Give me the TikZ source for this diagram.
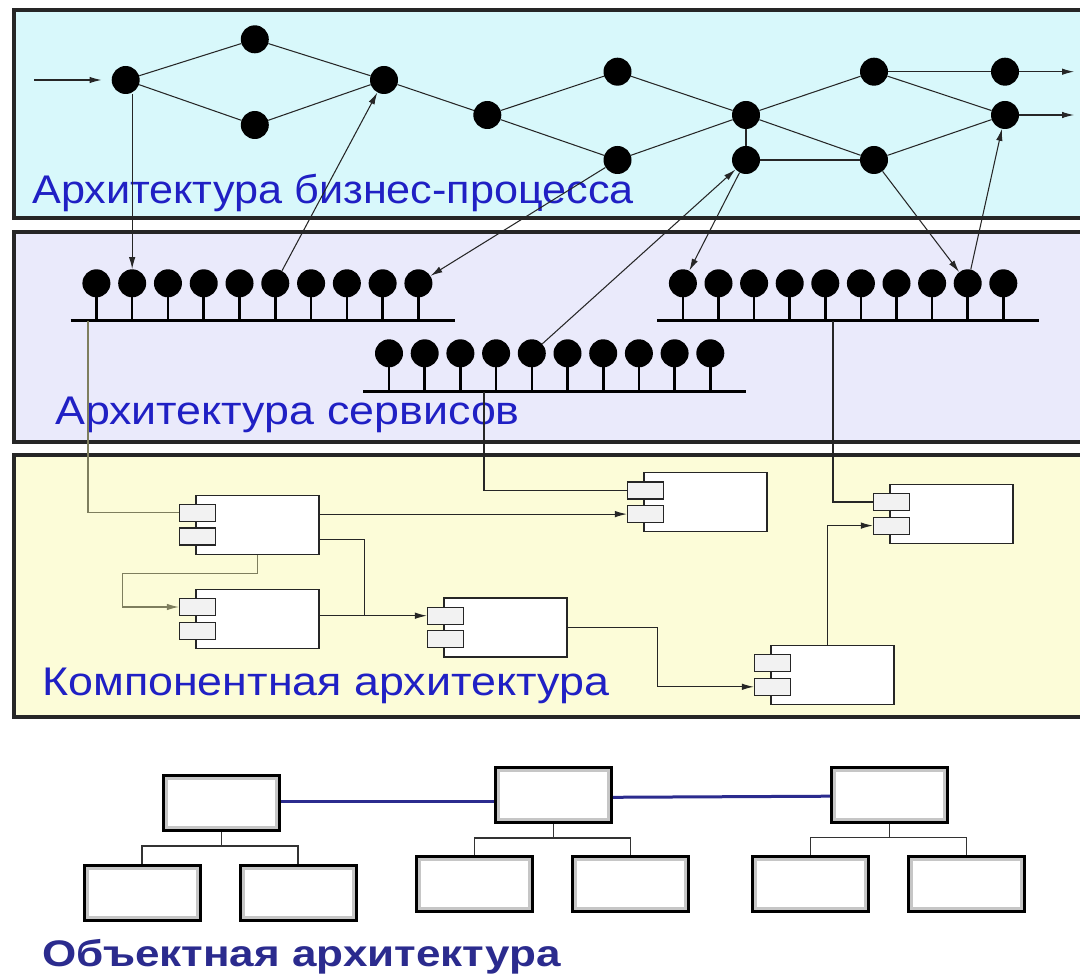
\documentclass[tikz,border=0pt]{standalone}
\usepackage{fontspec}
\setmainfont{Liberation Sans}
\usetikzlibrary{arrows.meta,calc}
\definecolor{bandA}{HTML}{D8F8FB}
\definecolor{bandB}{HTML}{EAEAFB}
\definecolor{bandC}{HTML}{FCFCD8}
\definecolor{labblue}{HTML}{2020C4}
\definecolor{navyline}{HTML}{2B2B8E}
\definecolor{olivegray}{HTML}{7E7E5E}
\definecolor{portfill}{HTML}{F2F2F2}
\tikzset{
  band/.style={draw=black!85, line width=3.8pt},
  dot/.style={circle, fill=black, minimum size=28pt, inner sep=0pt},
  flow/.style={draw=black!85, line width=1.05pt},
  arr/.style={flow, -{Latex[length=12pt,width=6.5pt]}},
  stem/.style={draw=black, line width=2.6pt},
  bus/.style={draw=black, line width=3pt},
  compbox/.style={draw=black!85, fill=white, line width=1.2pt, minimum width=123pt, minimum height=59pt, inner sep=0pt},
  port/.style={draw=black!85, fill=portfill, line width=1.2pt, minimum width=36pt, minimum height=17pt, inner sep=0pt},
  objbox/.style={draw=black, line width=3pt, fill=white, minimum width=116pt, minimum height=55pt, inner sep=0pt,
    path picture={\draw[gray!45, line width=9pt] (path picture bounding box.south west) rectangle (path picture bounding box.north east);}},
  tree/.style={draw=black!80, line width=1.1pt},
  link/.style={draw=navyline, line width=3pt},
  lab/.style={text=labblue, font=\fontsize{40}{40}\selectfont, inner sep=0pt, anchor=base west},
}
\newcommand{\umlcomp}[3]{%
  \node[compbox] (#1) at ({#2+61.5},#3) {};
  \node[port] (#1p1) at ({#2+1.5},{#3-11.8}) {};
  \node[port] (#1p2) at ({#2+1.5},{#3+11.8}) {};
}
\begin{document}
\begin{tikzpicture}[x=1pt,y=-1pt]
\clip (0,0) rectangle (1080,976);
\fill[white] (0,0) rectangle (1080,976);

% bands
\draw[band, fill=bandA] (14,10) rectangle (1100,218);
\draw[band, fill=bandB] (14,232) rectangle (1100,442);
\draw[band, fill=bandC] (14,455) rectangle (1100,717);

% labels
\node[lab] (t1) at (32,203.3) {\scalebox{1.08}[1]{Архитектура бизнес-процесса}};
\node[lab] (t2) at (55,425) {\scalebox{1.12}[1]{Архитектура сервисов}};
\node[lab] (t3) at (42,695) {\scalebox{1.12}[1]{Компонентная архитектура}};
\node[text=navyline, font=\fontsize{37}{37}\selectfont\bfseries, inner sep=0pt, anchor=base west] (t4) at (42,966.7) {\scalebox{1.19}[1]{Объектная архитектура}};

% business process
\node[dot] (A) at (125.7,80) {};
\node[dot] (B) at (254.8,39.3) {};
\node[dot] (C) at (254.8,125) {};
\node[dot] (D) at (384,80) {};
\node[dot] (E) at (487.3,115) {};
\node[dot] (F) at (617.5,71.7) {};
\node[dot] (G) at (617.5,160) {};
\node[dot] (H) at (746,115) {};
\node[dot] (I) at (746,160) {};
\node[dot] (J) at (874,71.7) {};
\node[dot] (K) at (874,160) {};
\node[dot] (L) at (1005,71.7) {};
\node[dot] (M) at (1005,115) {};
\coordinate (in) at (34.4,80);
\coordinate (out1) at (1074,71.7);
\coordinate (out2) at (1074,115);
\draw[arr, shorten >=10pt] (in) -- (A);
\draw[arr] (L) -- (out1);
\draw[arr] (M) -- (out2);
\draw[flow] (A) -- (B);
\draw[flow] (A) -- (C);
\draw[flow] (B) -- (D);
\draw[flow] (C) -- (D);
\draw[flow] (D) -- (E);
\draw[flow] (E) -- (F);
\draw[flow] (E) -- (G);
\draw[flow] (F) -- (H);
\draw[flow] (G) -- (H);
\draw[flow, line width=1.4pt] (H) -- (I);
\draw[flow] (H) -- (J);
\draw[flow] (H) -- (K);
\draw[flow, line width=1.4pt] (I) -- (K);
\draw[flow] (J) -- (L);
\draw[flow] (J) -- (M);
\draw[flow] (K) -- (M);

% service buses
\coordinate (lbusL) at (70.6,320.7);
\coordinate (lbusR) at (454.5,320.7);
\coordinate (mbusL) at (363,391.7);
\coordinate (mbusR) at (746,391.7);
\coordinate (rbusL) at (657,320.7);
\coordinate (rbusR) at (1039,320.7);
\draw[bus] (lbusL) -- (lbusR);
\draw[bus] (mbusL) -- (mbusR);
\draw[bus] (rbusL) -- (rbusR);
\foreach \i in {1,...,10} {
  \node[dot] (l\i) at ({96.4+35.78*(\i-1)},283.3) {};
  \draw[stem] (l\i.south) -- (l\i.south |- lbusL);
  \node[dot] (m\i) at ({389+35.7*(\i-1)},353.3) {};
  \draw[stem] (m\i.south) -- (m\i.south |- mbusL);
  \node[dot] (r\i) at ({682.9+35.6*(\i-1)},283.3) {};
  \draw[stem] (r\i.south) -- (r\i.south |- rbusL);
}

% cross-layer arrows
\draw[arr] (l2 |- A.south) -- (l2.north);
\draw[arr] (l6) -- (D);
\draw[arr] (G) -- (l10);
\draw[arr] (m5) -- (I);
\draw[arr] (I) -- (r1);
\draw[arr] (K) -- (r9);
\draw[arr] (r9) -- (M);

% components
\umlcomp{c1}{196}{524.7}
\umlcomp{c2}{196}{618.8}
\umlcomp{c3}{644}{502.3}
\umlcomp{c4}{890}{513.8}
\umlcomp{c5}{444}{627.5}
\umlcomp{c6}{771}{675}

\coordinate (lt) at (88,320.7);
\coordinate (mt) at (484,391.7);
\coordinate (rt) at (833,320.7);
\draw[flow, draw=olivegray] (lt) |- (c1p1.west);
\draw[flow] (mt) |- (c3p1.west);
\draw[flow] (rt) |- (c4p1.west);
\draw[arr] (c1.east |- c3p2.west) -- (c3p2.west);
\draw[arr] ([yshift=-14.6pt]c1.east) -| ($(c5p1.west)+(-62,0)$) -- (c5p1.west);
\draw[flow] (c2.east |- c5p1.west) -- ($(c5p1.west)+(-62,0)$);
\draw[arr, draw=olivegray] (c1.south) -- ++(0,18.3) -| ($(c2p1.west)+(-56,0)$) -- (c2p1.west);
\draw[arr] (c5.east) -| ($(c6p2.west)+(-96,0)$) -- (c6p2.west);
\draw[arr] ([xshift=-5pt]c6.north) |- (c4p2.west);

% object architecture
\node[objbox] (o1) at (221.2,803.3) {};
\node[objbox] (o1a) at (142,893) {};
\node[objbox] (o1b) at (298,893) {};
\node[objbox] (o2) at (553.5,795.3) {};
\node[objbox] (o2a) at (474.3,883.8) {};
\node[objbox] (o2b) at (630.7,883.8) {};
\node[objbox] (o3) at (889.6,794.7) {};
\node[objbox] (o3a) at (810.6,883.8) {};
\node[objbox] (o3b) at (966.6,883.8) {};
\draw[tree] (o1.south) -- ++(0,13.7) -| (o1a.north);
\draw[tree] (o1.south) -- ++(0,13.7) -| (o1b.north);
\draw[tree] (o2.south) -- ++(0,13.7) -| (o2a.north);
\draw[tree] (o2.south) -- ++(0,13.7) -| (o2b.north);
\draw[tree] (o3.south) -- ++(0,13.7) -| (o3a.north);
\draw[tree] (o3.south) -- ++(0,13.7) -| (o3b.north);
\draw[link] ([yshift=2pt]o1.east) -- ([yshift=2pt]o1.east -| o2.west);
\draw[link] ([yshift=-2pt]o2.east) -- ([yshift=-1.5pt]o3.west);
\end{tikzpicture}
\end{document}
